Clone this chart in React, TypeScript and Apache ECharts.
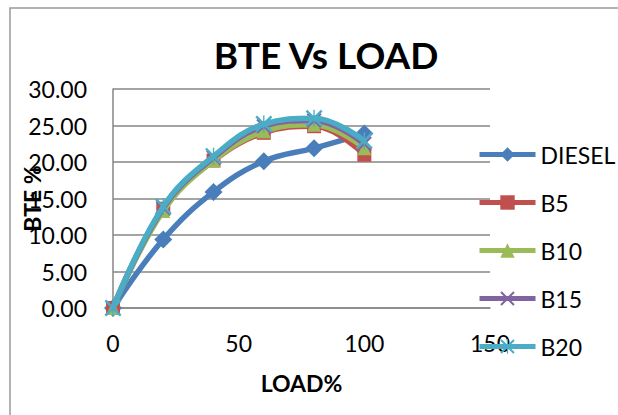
import React, { useEffect, useRef } from "react";
import * as echarts from "echarts";

const loads = [0, 20, 40, 60, 80, 100];
const diesel = [0, 9.4, 15.9, 20.1, 21.9, 23.9];
const b5 = [0, 13.6, 20.2, 24.0, 24.9, 21.0];
const b10 = [0, 13.3, 20.2, 24.2, 25.1, 21.9];
const b15 = [0, 13.7, 20.6, 24.9, 25.7, 22.5];
const b20 = [0, 13.9, 20.8, 25.2, 26.0, 22.9];

const seriesNames = ["DIESEL", "B5", "B10", "B15", "B20"];
const seriesColors = ["#4A7EBB", "#C0504D", "#9BBB59", "#8064A2", "#4BACC6"];

const X_PATH =
  "path://M0,1 L1,0 L5,4 L9,0 L10,1 L6,5 L10,9 L9,10 L5,6 L1,10 L0,9 L4,5 Z";
const STAR_PATH =
  "path://M0,1 L1,0 L5,4 L9,0 L10,1 L6,5 L10,9 L9,10 L5,6 L1,10 L0,9 L4,5 Z M4.6,0 L5.4,0 L5.4,3.8 L4.6,3.8 Z M4.6,6.2 L5.4,6.2 L5.4,10 L4.6,10 Z";

const symbols = ["diamond", "rect", "triangle", X_PATH, STAR_PATH];
const symbolSizes = [18, 14, 14, 15, 17];

const FONT = "Lato, 'Liberation Sans', sans-serif";

export default function App() {
  const ref = useRef<HTMLDivElement>(null);
  useEffect(() => {
    if (!ref.current) return;
    const chart = echarts.init(ref.current, undefined, { renderer: "svg" });
    const all = [diesel, b5, b10, b15, b20];
    chart.setOption({
      animation: false,
      backgroundColor: "#ffffff",
      textStyle: { fontFamily: FONT },
      title: {
        text: "BTE Vs LOAD",
        left: 321,
        top: 31,
        textAlign: "center",
        textStyle: { fontSize: 37, fontWeight: "bold", color: "#000", fontFamily: FONT },
      },
      graphic: [
        {
          type: "rect",
          shape: { x: 10, y: 8, width: 700, height: 500 },
          style: { fill: "none", stroke: "#9a9a9a", lineWidth: 1.5 },
          silent: true,
          z: -1,
        },
      ],
      legend: {
        orient: "vertical",
        left: 472,
        top: 138,
        itemWidth: 56,
        itemHeight: 18,
        itemGap: 25,
        data: seriesNames,
        lineStyle: { width: 5 },
        textStyle: { fontSize: 23, color: "#000", fontFamily: FONT },
      },
      grid: {
        left: 113,
        right: 128,
        top: 89,
        bottom: 107,
        containLabel: false,
        outerBoundsMode: "none",
      },
      xAxis: {
        type: "value",
        min: 0,
        max: 150,
        interval: 50,
        name: "LOAD%",
        nameLocation: "middle",
        nameGap: 63,
        nameMoveOverlap: false,
        nameTextStyle: { fontSize: 23, fontWeight: "bold", color: "#000", fontFamily: FONT },
        axisLine: { show: true, lineStyle: { color: "#868686", width: 1.5 } },
        axisTick: { show: false },
        splitLine: { show: false },
        axisLabel: { fontSize: 23, color: "#000", margin: 23, fontFamily: FONT },
      },
      yAxis: {
        type: "value",
        min: 0,
        max: 30,
        interval: 5,
        name: "BTE %",
        nameLocation: "middle",
        nameGap: 70,
        nameRotate: 90,
        nameMoveOverlap: false,
        nameTextStyle: { fontSize: 23, fontWeight: "bold", color: "#000", fontFamily: FONT },
        axisLine: { show: true, lineStyle: { color: "#868686", width: 1.5 } },
        axisTick: { show: false },
        splitLine: { show: true, lineStyle: { color: "#868686", width: 1.5 } },
        axisLabel: {
          fontSize: 23,
          color: "#000",
          margin: 26,
          fontFamily: FONT,
          formatter: (v: number) => v.toFixed(2),
        },
      },
      series: seriesNames.map((name, i) => ({
        name,
        type: "line",
        smooth: 0.4,
        data: loads.map((x, j) => [x, all[i][j]]),
        symbol: symbols[i],
        symbolSize: symbolSizes[i],
        showAllSymbol: true,
        lineStyle: { color: seriesColors[i], width: 5.5 },
        itemStyle: { color: seriesColors[i] },
        z: 2 + i,
      })),
    });
    return () => chart.dispose();
  }, []);
  return (
    <div
      ref={ref}
      style={{ position: "fixed", left: 0, top: 0, width: 618, height: 415 }}
    />
  );
}
